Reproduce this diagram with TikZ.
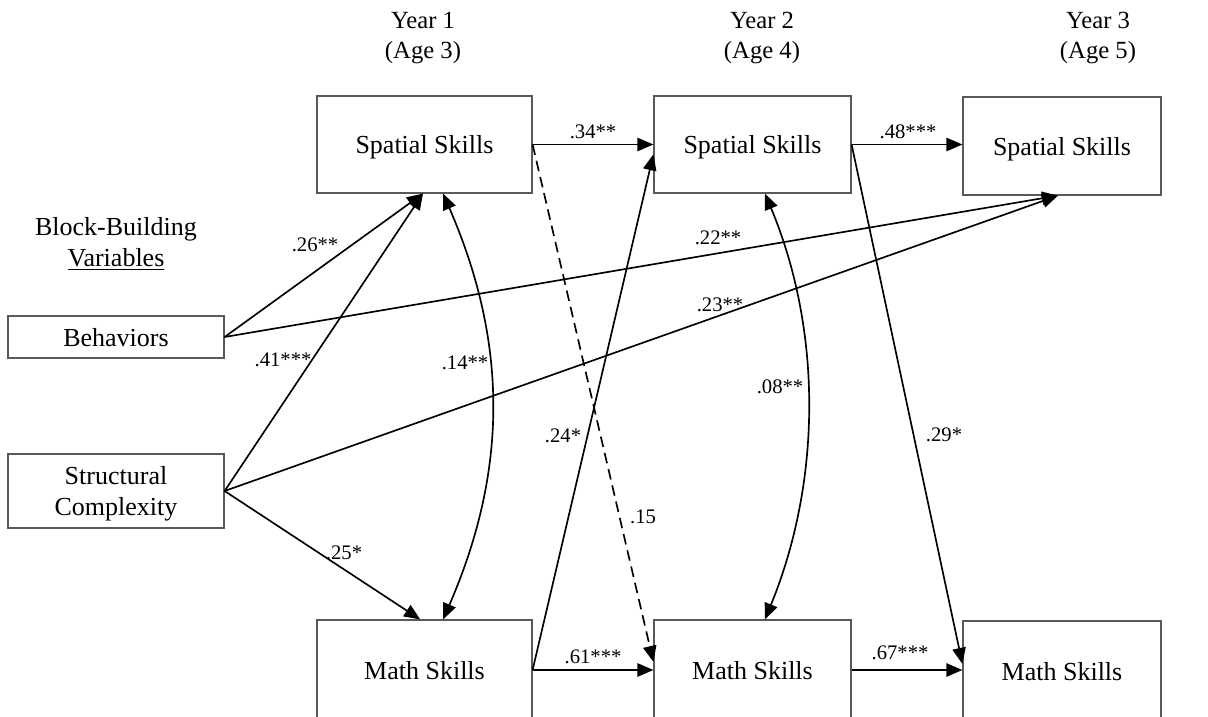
\documentclass[tikz,border=0pt]{standalone}
\usepackage{fontspec}
\setmainfont{Liberation Serif}
\usetikzlibrary{arrows.meta,calc}
\begin{document}
\begin{tikzpicture}[x=0.75pt,y=-0.75pt,
  box/.style={draw=black!65, line width=0.9pt, rectangle, inner sep=0pt, align=center, text depth=0pt, font=\fontsize{19.5}{23.25}\selectfont},
  conn/.style={line width=1.25pt, -{Triangle[length=12pt,width=10pt]}},
  both/.style={line width=1.25pt, {Triangle[length=12pt,width=10pt]}-{Triangle[length=12pt,width=10pt]}},
  lab/.style={font=\fontsize{15.5}{18}\selectfont, inner sep=0pt},
  hdr/.style={font=\fontsize{18.5}{22.5}\selectfont, align=center, inner sep=0pt},
]
\useasboundingbox (0,0) rectangle (1208,717);
\clip (0,0) rectangle (1208,717);

% headers
\node[hdr] (h1) at (423,38) {Year 1\\(Age 3)};
\node[hdr] (h2) at (762,38) {Year 2\\(Age 4)};
\node[hdr] (h3) at (1098,38) {Year 3\\(Age 5)};
\node[hdr, font=\fontsize{19.5}{23.25}\selectfont] (bbv) at (116,244) {Block-Building\\\underline{Variables}};

% boxes
\node[box, minimum width=161.25pt, minimum height=72.75pt] (S1) at (424.5,144.5) {Spatial Skills};
\node[box, minimum width=147.75pt, minimum height=72.75pt] (S2) at (752.5,144.5) {Spatial Skills};
\node[box, minimum width=148.5pt, minimum height=73.5pt] (S3) at (1062,146) {Spatial Skills};
\node[box, minimum width=161.25pt, minimum height=75pt] (M1) at (424.5,670) {Math Skills};
\node[box, minimum width=147.75pt, minimum height=75pt] (M2) at (752.5,670) {Math Skills};
\node[box, minimum width=148.5pt, minimum height=75pt] (M3) at (1062,671) {Math Skills};
\node[box, minimum width=162pt, minimum height=31.5pt] (B) at (116,337) {Behaviors};
\node[box, minimum width=162pt, minimum height=55.5pt] (SC) at (116,491) {Structural\\Complexity};

% connectors
\draw[conn] (S1.east) -- (S2.west);
\draw[conn] (S2.east) -- (S2.east -| S3.west);
\draw[conn] (M1.east) -- (M2.west);
\draw[conn] (M2.east) -- (M2.east -| M3.west);
\draw[conn] (B.east) -- ($(S1.south west)!0.493!(S1.south east)$);
\draw[conn] (SC.east) -- ($(S1.south west)!0.493!(S1.south east)$);
\draw[conn] (B.east) -- ($(S3.south west)!0.48!(S3.south east)$);
\draw[conn] (SC.east) -- ($(S3.south west)!0.48!(S3.south east)$);
\draw[conn] (SC.east) -- ($(M1.north west)!0.48!(M1.north east)$);
\draw[conn] (M1.east) -- ($(S2.north west)!0.6!(S2.south west)$);
\draw[conn, dash pattern=on 8pt off 4.5pt] (S1.east) -- ($(M2.north west)!0.42!(M2.south west)$);
\draw[conn] (S2.east) -- ($(M3.north west)!0.43!(M3.south west)$);
\draw[both] ($(S1.south west)!0.586!(S1.south east)$) .. controls (508,343) and (508,470) .. ($(M1.north west)!0.586!(M1.north east)$);
\draw[both] ($(S2.south west)!0.563!(S2.south east)$) .. controls (822,330) and (822,480) .. ($(M2.north west)!0.563!(M2.north east)$);

% labels
\node[lab] (l34) at (593,132) {.34**};
\node[lab] (l48) at (908,132) {.48***};
\node[lab] (l61) at (593,657) {.61***};
\node[lab] (l67) at (900,653) {.67***};
\node[lab] (l26) at (315,245) {.26**};
\node[lab] (l41) at (283,360) {.41***};
\node[lab] (l25) at (344,553) {.25*};
\node[lab] (l14) at (465,363) {.14**};
\node[lab] (l24) at (563,436) {.24*};
\node[lab] (l22) at (718,238) {.22**};
\node[lab] (l23) at (720,305) {.23**};
\node[lab] (l15) at (643,517) {.15};
\node[lab] (l08) at (780,387) {.08**};
\node[lab] (l29) at (944,435) {.29*};
\end{tikzpicture}
\end{document}
